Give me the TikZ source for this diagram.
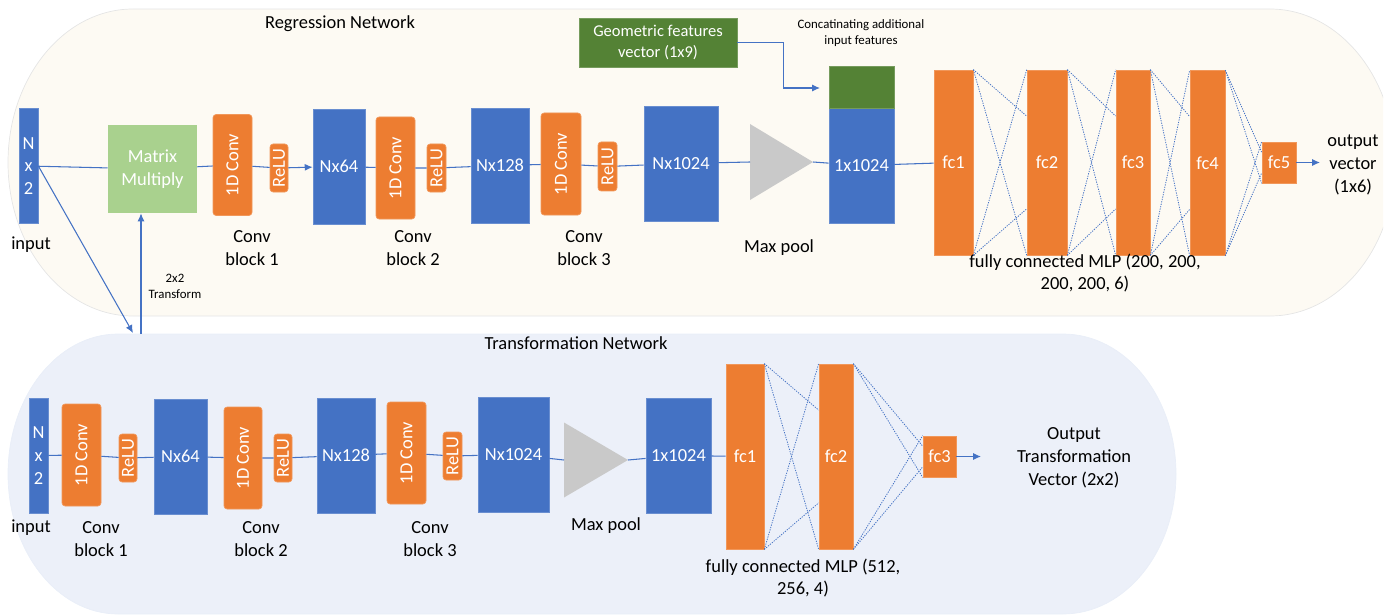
\documentclass[tikz,border=0pt]{standalone}
\usepackage{fontspec}
\setmainfont{Carlito}
\usetikzlibrary{arrows.meta,positioning,calc}
\pgfdeclarelayer{background layer}
\pgfsetlayers{background layer,main}
\definecolor{netblue}{HTML}{4472C4}
\definecolor{netorange}{HTML}{ED7D31}
\definecolor{lightgreen}{HTML}{A9D18E}
\definecolor{darkgreen}{HTML}{548235}
\definecolor{poolgrey}{HTML}{C9C9C9}
\definecolor{cream}{HTML}{FDFAF3}
\definecolor{paleblue}{HTML}{ECF0F9}
\newcommand{\pxu}{0.02cm}
\tikzset{wh/.style 2 args={minimum width=#1*\pxu,minimum height=#2*\pxu}}

\begin{document}
\begin{tikzpicture}[x=0.02cm,y=-0.02cm]
\tikzstyle{netbox}=[inner sep=0pt,text=white,font=\fontsize{10.5}{13}\selectfont,align=center]
\tikzstyle{bluebox}=[netbox,fill=netblue,draw=netblue!80!white,line width=0.4pt]
\tikzstyle{convbox}=[netbox,fill=netorange,draw=netorange!80!white,line width=0.4pt,rounded corners=1.8pt]
\tikzstyle{fcbox}=[netbox,fill=netorange,draw=netorange!80!white,line width=0.4pt]
\tikzstyle{lbl}=[font=\fontsize{10.5}{13}\selectfont,align=center]
\tikzstyle{small}=[font=\fontsize{7.3}{9}\selectfont,align=center]
\tikzstyle{link}=[netblue,line width=0.6pt]
\tikzstyle{arrow}=[link,-{Latex[length=4.5pt,width=4pt]}]
\tikzstyle{mlplink}=[netblue,line width=0.45pt,dash pattern=on 0.7pt off 0.7pt]
\useasboundingbox (0,0) rectangle (1397,615);

% regression network
\node [lbl] at (340,24) (rtitle) {Regression Network};
\node [bluebox,wh={19}{115}] at (28.5,166) (rin) {N\\x\\2};
\node [lbl] at (31,245) (rinlbl) {input};
\node [netbox,fill=lightgreen,wh={89}{88}] at (152.5,169) (rmm) {Matrix\\Multiply};
\node [convbox,wh={39}{101}] at (232.5,165) (rc1) {\rotatebox{90}{1D Conv}};
\node [convbox,wh={18}{48}] at (279,168) (rr1) {\rotatebox{90}{ReLU}};
\node [bluebox,wh={52}{115}] at (339,166.5) (r64) {Nx64};
\node [convbox,wh={39}{102}] at (395.5,168) (rc2) {\rotatebox{90}{1D Conv}};
\node [convbox,wh={19}{48}] at (436.5,168) (rr2) {\rotatebox{90}{ReLU}};
\node [bluebox,wh={58}{115}] at (500,165.5) (r128) {Nx128};
\node [convbox,wh={40}{102}] at (561,164) (rc3) {\rotatebox{90}{1D Conv}};
\node [convbox,wh={19}{49}] at (607.5,166.5) (rr3) {\rotatebox{90}{ReLU}};
\node [bluebox,wh={74}{115}] at (681,163.5) (r1024) {Nx1024};
\coordinate (rpa) at (750,162);
\coordinate (rpb) at (813,162);
\fill [poolgrey] (rpa) ++(0,-38) -- (rpb) -- ($(rpa)+(0,38)$) -- cycle;
\node [bluebox,wh={65}{115}] at (861.5,165.5) (r1x) {1x1024};
\node [netbox,fill=darkgreen,draw=darkgreen!80!white,line width=0.4pt,wh={65}{42}] at (861.5,87) (rgeo) {};
\node [netbox,fill=darkgreen,draw=darkgreen!80!white,line width=0.4pt,wh={158}{49},font=\fontsize{9.4}{12}\selectfont] at (658,42.5) (rfeat) {Geometric features\\vector (1x9)};
\node [small] at (861,33) (rcat) {Concatinating additional\\input features};
\node [lbl] at (252,248) (rb1) {Conv\\block 1};
\node [lbl] at (413,248) (rb2) {Conv\\block 2};
\node [lbl] at (584,248) (rb3) {Conv\\block 3};
\node [lbl] at (779,248) (rpool) {Max pool};
\node [fcbox,wh={39}{185}] at (953.5,162.5) (rf1) {fc1};
\node [fcbox,wh={40}{185}] at (1047,162.5) (rf2) {fc2};
\node [fcbox,wh={34}{185}] at (1133,162.5) (rf3) {fc3};
\node [fcbox,wh={35}{185}] at (1207.5,163) (rf4) {fc4};
\node [fcbox,wh={34}{41}] at (1279,162.5) (rf5) {fc5};
\node [lbl] at (1085,273) (rmlp) {fully connected MLP (200, 200,\\200, 200, 6)};
\node [lbl] at (1353,165) (rout) {output\\vector\\(1x6)};
\coordinate (routa) at (1320,162.5);

% transformation network
\node [lbl] at (576,343) (ttitle) {Transformation Network};
\node [bluebox,wh={19}{115}] at (38.5,455.5) (tin) {N\\x\\2};
\node [lbl] at (31,528) (tinlbl) {input};
\node [convbox,wh={39}{102}] at (81.5,455) (tc1) {\rotatebox{90}{1D Conv}};
\node [convbox,wh={18}{48}] at (128,458) (tr1) {\rotatebox{90}{ReLU}};
\node [bluebox,wh={53}{115}] at (180.5,456.5) (t64) {Nx64};
\node [convbox,wh={38}{102}] at (243,458) (tc2) {\rotatebox{90}{1D Conv}};
\node [convbox,wh={18}{48}] at (283,458) (tr2) {\rotatebox{90}{ReLU}};
\node [bluebox,wh={58}{115}] at (346,455.5) (t128) {Nx128};
\node [convbox,wh={39}{102}] at (406.5,453) (tc3) {\rotatebox{90}{1D Conv}};
\node [convbox,wh={19}{48}] at (452.5,456) (tr3) {\rotatebox{90}{ReLU}};
\node [bluebox,wh={71}{115}] at (513.5,454.5) (t1024) {Nx1024};
\coordinate (tpa) at (564,460);
\coordinate (tpb) at (628,460);
\fill [poolgrey] (tpa) ++(0,-37.5) -- (tpb) -- ($(tpa)+(0,37.5)$) -- cycle;
\node [bluebox,wh={65}{115}] at (678.5,455.5) (t1x) {1x1024};
\node [lbl] at (101,539) (tb1) {Conv\\block 1};
\node [lbl] at (261,539) (tb2) {Conv\\block 2};
\node [lbl] at (430,539) (tb3) {Conv\\block 3};
\node [lbl] at (606,526) (tpool) {Max pool};
\node [fcbox,wh={38}{185}] at (745,456.5) (tf1) {fc1};
\node [fcbox,wh={34}{185}] at (836,456.5) (tf2) {fc2};
\node [fcbox,wh={33}{41}] at (939.5,456.5) (tf3) {fc3};
\node [lbl] at (803,578) (tmlp) {fully connected MLP (512,\\256, 4)};
\node [lbl] at (1074,458) (tout) {Output\\Transformation\\Vector (2x2)};
\coordinate (touta) at (981,456.5);

% links
\draw [link] (rin) -- (rmm) -- (rc1) -- (rr1);
\draw [arrow] (rr1) -- (r64);
\draw [link] (r64) -- (rc2) -- (rr2) -- (r128) -- (rc3) -- (rr3) -- (r1024);
\draw [link] (r1024) -- (rpa);
\draw [link] (rpb) -- (r1x);
\draw [link] (r1x) -- (rf1);
\draw [arrow] (rf5) -- (routa);
\coordinate (rcin) at (820,88);
\draw [arrow] (rfeat.east) -- ++(46,0) |- (rcin);
\coordinate (tenter) at (133,333);
\coordinate (texit) at (141,334);
\draw [arrow] (rin.east) -- (tenter);
\draw [arrow] (texit) -- (texit |- rmm.south);
\node [small] at (175,286) (ttrans) {2x2\\Transform};

\draw [link] (tin) -- (tc1) -- (tr1) -- (t64) -- (tc2) -- (tr2) -- (t128) -- (tc3) -- (tr3) -- (t1024);
\draw [link] (t1024) -- (tpa);
\draw [link] (tpb) -- (t1x);
\draw [link] (t1x) -- (tf1);
\draw [arrow] (tf3) -- (touta);

\foreach \a/\b in {rf1/rf2,rf2/rf3,rf3/rf4,rf4/rf5,tf1/tf2,tf2/tf3} {
  \draw [mlplink] (\a.north east) -- ($(\b.north west)!0.25!(\b.south west)$);
  \draw [mlplink] (\a.north east) -- (\b.south west);
  \draw [mlplink] (\a.south east) -- (\b.north west);
  \draw [mlplink] (\a.south east) -- ($(\b.north west)!0.75!(\b.south west)$);
}

\begin{pgfonlayer}{background layer}
\begin{scope}
\clip (0,0) rectangle (1383,615);
\filldraw [fill=cream,draw=black!10] (133,9) -- (1270,9)
  arc [start angle=90,end angle=-90,x radius=125*\pxu,y radius=153.5*\pxu]
  -- (133,316)
  arc [start angle=270,end angle=90,x radius=125*\pxu,y radius=153.5*\pxu] -- cycle;
\end{scope}
\filldraw [fill=paleblue,draw=netblue!12] (118,334) -- (1063,334)
  arc [start angle=90,end angle=-90,x radius=113*\pxu,y radius=140*\pxu]
  -- (118,614)
  arc [start angle=270,end angle=90,x radius=110*\pxu,y radius=140*\pxu] -- cycle;
\end{pgfonlayer}
\end{tikzpicture}
\end{document}
